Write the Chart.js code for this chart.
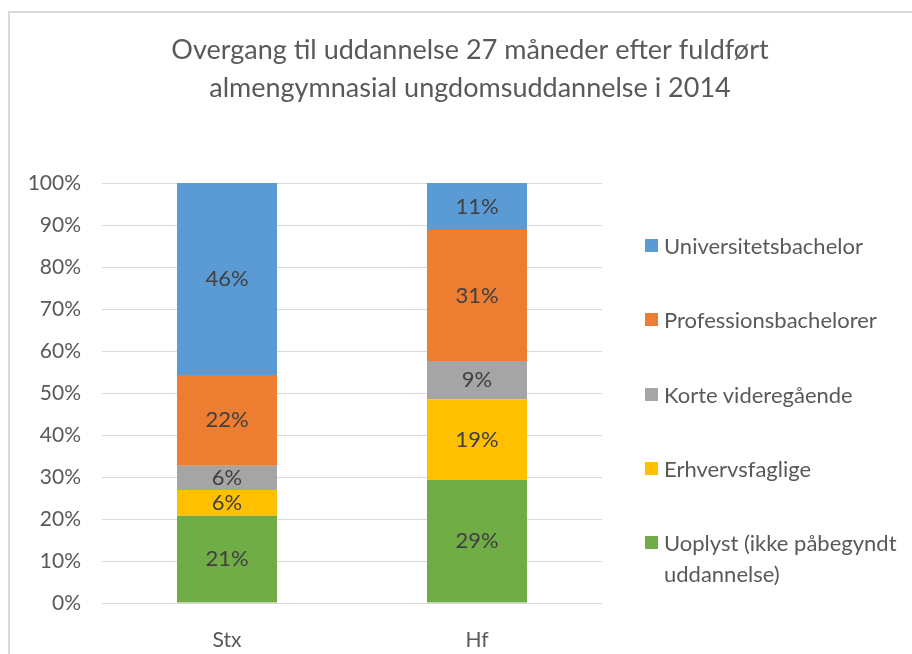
<!DOCTYPE html>
<html>
<head>
<meta charset="utf-8">
<script src="https://cdn.jsdelivr.net/npm/chart.js@4.4.1/dist/chart.umd.min.js"></script>
<style>
  html, body { margin: 0; padding: 0; background: #fff; width: 912px; height: 654px; overflow: hidden; }
  #frame { position: absolute; left: 8px; top: 11px; width: 1000px; height: 1000px;
           border-left: 2px solid #d9d9d9; border-top: 2px solid #d9d9d9; }
  #chart { position: absolute; left: 10px; top: 13px; }
  #legend { position: absolute; left: 0; top: 0; width: 912px; font-family: Lato, sans-serif; font-size: 22px; color: #595959; }
  .item { position: absolute; left: 645px; line-height: 31px; white-space: pre; }
  .item i { position: absolute; left: 0; top: 9px; width: 13px; height: 13px; }
  .item span { display: block; padding-left: 19px; }
</style>
</head>
<body>
<div id="frame"></div>
<canvas id="chart" width="920" height="641"></canvas>
<div id="legend"></div>
<script>
const categories = ['Stx', 'Hf']
const seriesNames = [
  'Uoplyst (ikke påbegyndt\nuddannelse)',
  'Erhvervsfaglige',
  'Korte videregående',
  'Professionsbachelorer',
  'Universitetsbachelor',
]
const seriesColors = ['#70ad47', '#ffc000', '#a5a5a5', '#ed7d31', '#5b9bd5']

// andele i procent, Stx / Hf
const uoplyst = [20.8, 29.3]
const erhvervsfaglige = [6.1, 19.2]
const korteVideregaaende = [5.8, 9.1]
const professionsbachelorer = [21.6, 31.2]
const universitetsbachelor = [45.7, 11.2]
const seriesValues = [uoplyst, erhvervsfaglige, korteVideregaaende, professionsbachelorer, universitetsbachelor]

const yMax = 100
const yStep = 10

const titleLines = [
  'Overgang til uddannelse 27 måneder efter fuldført',
  'almengymnasial ungdomsuddannelse i 2014',
]

const FONT = 'Lato'
const TEXT = '#595959'
const GRID = '#d9d9d9'

/** Writes the rounded value in the middle of each bar segment. */
const barValueLabels = {
  id: 'barValueLabels',
  afterDatasetsDraw(chart) {
    const { ctx } = chart
    ctx.save()
    ctx.font = `22px ${FONT}`
    ctx.fillStyle = '#404040'
    ctx.textAlign = 'center'
    ctx.textBaseline = 'middle'
    chart.data.datasets.forEach((ds, i) => {
      chart.getDatasetMeta(i).data.forEach((bar, j) => {
        const { x, y, base } = bar.getProps(['x', 'y', 'base'], true)
        ctx.fillText(`${Math.round(ds.data[j])}%`, x, (y + base) / 2)
      })
    })
    ctx.restore()
  },
}

const datasets = seriesNames.map((name, i) => ({
  label: name,
  data: seriesValues[i],
  backgroundColor: seriesColors[i],
  borderWidth: 0,
  barPercentage: 0.4,
  categoryPercentage: 1,
}))

new Chart(document.getElementById('chart'), {
  type: 'bar',
  data: { labels: categories, datasets },
  plugins: [barValueLabels],
  options: {
    responsive: false,
    animation: false,
    layout: { padding: 0 },
    plugins: {
      legend: { display: false },
      tooltip: { enabled: false },
      title: {
        display: true,
        text: titleLines,
        color: TEXT,
        font: { family: FONT, size: 27, weight: 'normal', lineHeight: 38 / 27 },
        padding: { top: 18, bottom: 76 },
      },
    },
    scales: {
      x: {
        stacked: true,
        grid: { display: false },
        border: { display: false },
        ticks: { color: TEXT, font: { family: FONT, size: 21 }, padding: 17 },
        afterFit(scale) { scale.height = 51 },
      },
      y: {
        stacked: true,
        min: 0,
        max: yMax,
        grid: { color: GRID, lineWidth: 1, drawTicks: false },
        border: { display: false },
        ticks: {
          stepSize: yStep,
          color: TEXT,
          padding: 21,
          font: { family: FONT, size: 21 },
          callback: v => `${v}%`,
        },
        afterFit(scale) { scale.width = 92 },
      },
      // tom akse der holder plads til legenden i højre side
      legendSpace: {
        type: 'linear',
        position: 'right',
        grid: { display: false, drawTicks: false },
        border: { display: false },
        ticks: { display: false },
        afterFit(scale) { scale.width = 328 },
      },
    },
  },
})

const legend = document.getElementById('legend')
const order = seriesNames.map((_, i) => i).reverse()
order.forEach((idx, k) => {
  const item = document.createElement('div')
  item.className = 'item'
  item.style.top = `${230 + k * 74.3}px`
  item.innerHTML = `<i style="background:${seriesColors[idx]}"></i><span></span>`
  item.querySelector('span').textContent = seriesNames[idx]
  legend.appendChild(item)
})
</script>
</body>
</html>
